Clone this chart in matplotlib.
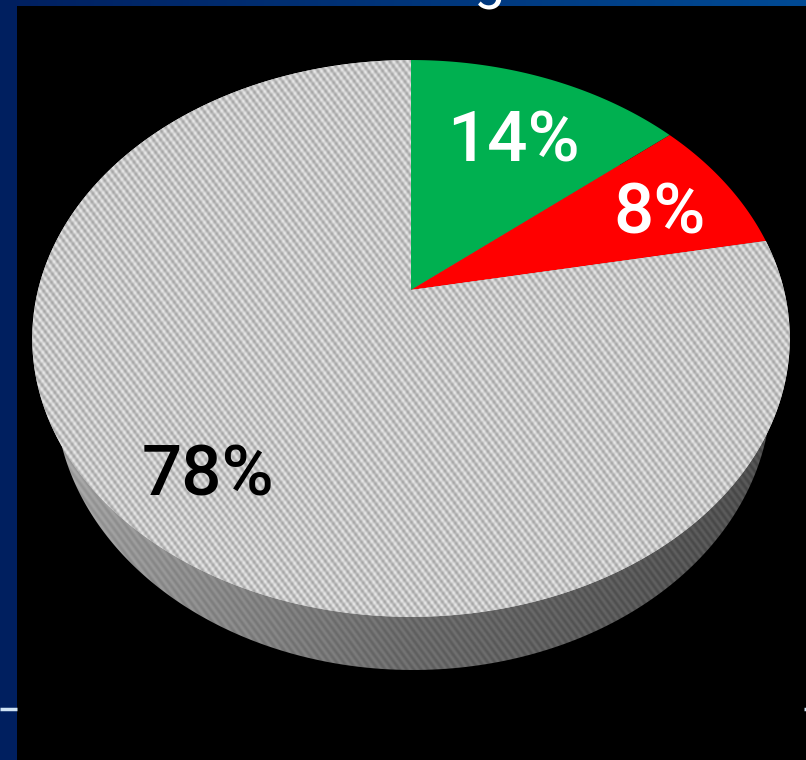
import numpy as np
import matplotlib
matplotlib.use('Agg')
import matplotlib.pyplot as plt
from matplotlib.colors import LinearSegmentedColormap
from matplotlib.patches import Polygon, Rectangle

# --- data ---
shares = [14, 8, 78]
labels = ['14%', '8%', '78%']
slice_colors = ['#00b050', '#ff0000', '#c6c6c6']
label_colors = ['white', 'white', 'black']
label_pos = [(513, 162), (660, 234), (208, 496)]

# tilted disc: plane coordinates go through a perspective divide
cx, cy = 411, 290
scale_x, scale_y = 373, 270
tilt = 0.174


def disc_xy(theta):
    u = np.sin(theta)
    v = np.cos(theta)
    w = 1 + tilt * v
    return cx + scale_x * u / w, cy - scale_y * v / w


plt.rcParams['font.family'] = ['Roboto', 'DejaVu Sans']

fig = plt.figure(figsize=(8.06, 7.60), dpi=100)
ax = fig.add_axes([0, 0, 1, 1])
ax.axis('off')

# slide background behind the black panel
ax.add_patch(Rectangle((0, 0), 806, 760, fc='#001f5f', ec='none', zorder=0))
band = np.linspace(0, 1, 256).reshape(1, -1)
band_cmap = LinearSegmentedColormap.from_list('band', ['#001f5f', '#004a94'])
ax.imshow(band, extent=[0, 806, 6, 0], cmap=band_cmap, aspect='auto', zorder=1)
ax.add_patch(Rectangle((17, 6), 789, 754, fc='black', ec='none', zorder=2))
ax.plot([0, 17], [709, 709], color='#cfe3f5', lw=2.5, zorder=3, solid_capstyle='butt')
ax.plot([804, 806], [709, 709], color='#cfe3f5', lw=2.5, zorder=3, solid_capstyle='butt')

# pixel grid for the printed stripe texture
px, py = np.meshgrid(np.arange(806) + 0.5, np.arange(760) + 0.5)
stripes = np.sin(2 * np.pi * (px - 0.75 * py) / 7.2)
dots = np.sin(2 * np.pi * (px + 0.9 * py) / 6.4)

# side wall of the disc, lighter on the left
t = np.linspace(0, 2 * np.pi, 400)
wall_pts = np.column_stack([413 + 358 * np.sin(t), 392 + 278 * np.cos(t)])
wall = Polygon(wall_pts, fc='none', ec='none', zorder=3.5)
ax.add_patch(wall)
wall_tone = np.interp(px, [50, 120, 300, 411, 600, 775], [165, 150, 122, 105, 90, 78])
wall_img = ax.imshow(wall_tone + 10 * stripes, extent=[0, 806, 760, 0], cmap='gray',
                     vmin=0, vmax=255, aspect='auto', interpolation='nearest', zorder=4)
wall_img.set_clip_path(wall)

# top face wedges, clockwise from twelve o'clock
edges = np.concatenate([[0], np.cumsum(shares)]) / sum(shares) * 2 * np.pi
for i, share in enumerate(shares):
    th = np.linspace(edges[i], edges[i + 1], 200)
    x, y = disc_xy(th)
    pts = np.column_stack([np.r_[cx, x], np.r_[cy, y]])
    wedge = Polygon(pts, fc=slice_colors[i], ec='none', zorder=5)
    ax.add_patch(wedge)
    if i == 2:
        # the large slice carries a fine diagonal stripe
        tex = ax.imshow(198 + 24 * stripes + 8 * dots, extent=[0, 806, 760, 0], cmap='gray',
                        vmin=0, vmax=255, aspect='auto', interpolation='nearest', zorder=5.5)
        tex.set_clip_path(wedge)
    ax.text(label_pos[i][0], label_pos[i][1], labels[i], color=label_colors[i],
            fontsize=51, fontweight=500, ha='center', va='baseline', zorder=7)

# descender of the slide heading, the rest runs off the top edge
ax.text(489, -2, 'g', color='white', fontsize=40, ha='center', va='baseline', zorder=7)

ax.set_xlim(0, 806)
ax.set_ylim(760, 0)

fig.savefig('out.png', dpi=100)
